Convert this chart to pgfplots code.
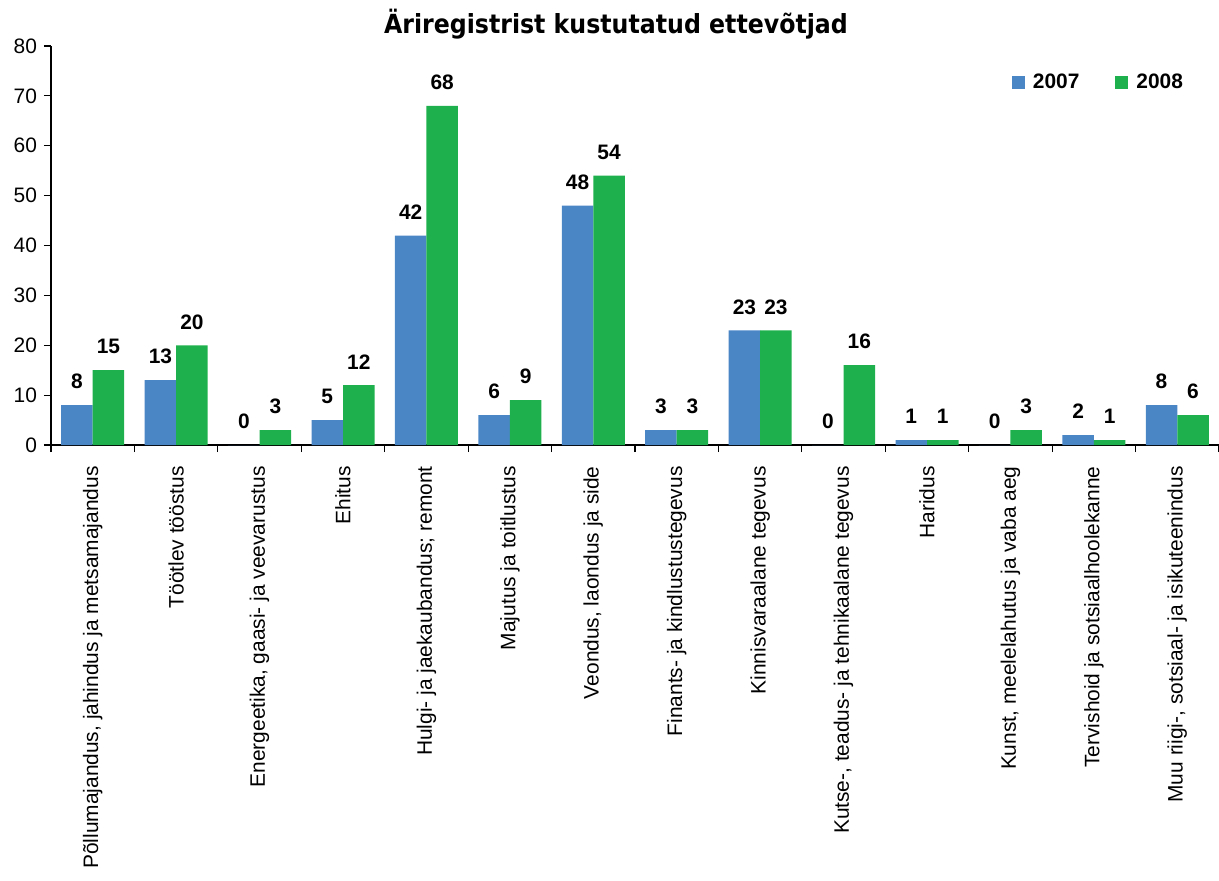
\documentclass[border=0pt]{standalone}
\usepackage{pgfplots}
\pgfplotsset{compat=1.18}
\usepackage{fontspec}
\setmainfont{Liberation Sans}
\newfontfamily\titlefont{DejaVu Sans Condensed}
\definecolor{cblue}{RGB}{74,134,198}
\definecolor{cgreen}{RGB}{29,176,76}
\begin{document}
\begin{tikzpicture}
\begin{axis}[
  width=584bp, height=199.5bp, scale only axis,
  xmin=-0.5, xmax=13.5, ymin=0, ymax=80,
  ytick={0,10,...,80},
  xtick={0,...,13},
  xticklabels={
    {Põllumajandus, jahindus ja metsamajandus},
    {Töötlev tööstus},
    {Energeetika, gaasi- ja veevarustus},
    {Ehitus},
    {Hulgi- ja jaekaubandus; remont},
    {Majutus ja toitlustus},
    {Veondus, laondus ja side},
    {Finants- ja kindlustustegevus},
    {Kinnisvaraalane tegevus},
    {Kutse-, teadus- ja tehnikaalane tegevus},
    {Haridus},
    {Kunst, meelelahutus ja vaba aeg},
    {Tervishoid ja sotsiaalhoolekanne},
    {Muu riigi-, sotsiaal- ja isikuteenindus}},
  minor xtick={-0.5,0.5,...,13.5},
  axis x line*=bottom, axis y line*=left,
  axis line style={line width=0.6bp, black},
  tick align=outside,
  major tick length=3.5bp, minor tick length=3.5bp,
  tick style={line width=0.6bp, black},
  major x tick style={draw=none},
  /pgf/number format/assume math mode=true,
  tick label style={font=\fontsize{10.5}{12}\selectfont},
  xticklabel style={rotate=90, anchor=east, inner sep=0pt},
  xticklabel shift=7bp,
  title={Äriregistrist kustutatud ettevõtjad},
  title style={font=\titlefont\bfseries\fontsize{13.2}{15}\selectfont, at={(0.5,1)}, anchor=base, yshift=0.5bp, xshift=-9.5bp},
  ybar=0pt, bar width=15.75bp,
  nodes near coords,
  every node near coord/.append style={font=\bfseries\fontsize{10.5}{12}\selectfont, yshift=4.5bp, black},
  legend style={draw=none, fill=none, legend columns=2, at={(0.8976,0.908)}, anchor=center,
    font=\bfseries\fontsize{10.5}{12}\selectfont,
    /tikz/every odd column/.append style={column sep=2bp},
    /tikz/every even column/.append style={column sep=16bp}},
  clip=false,
]
\addplot[ybar, fill=cblue, draw=none, legend image code/.code={\fill[cblue] (0bp,-3.25bp) rectangle (6.5bp,3.25bp);}]
  coordinates {(0,8)(1,13)(2,0)(3,5)(4,42)(5,6)(6,48)(7,3)(8,23)(9,0)(10,1)(11,0)(12,2)(13,8)};
\addplot[ybar, fill=cgreen, draw=none, legend image code/.code={\fill[cgreen] (0bp,-3.25bp) rectangle (6.5bp,3.25bp);}]
  coordinates {(0,15)(1,20)(2,3)(3,12)(4,68)(5,9)(6,54)(7,3)(8,23)(9,16)(10,1)(11,3)(12,1)(13,6)};
\legend{2007,2008}
\end{axis}
\pgfresetboundingbox
\path ([xshift=-25.5bp,yshift=-218bp]current axis.south west) rectangle ([yshift=23bp]current axis.north east);
\end{tikzpicture}
\end{document}
